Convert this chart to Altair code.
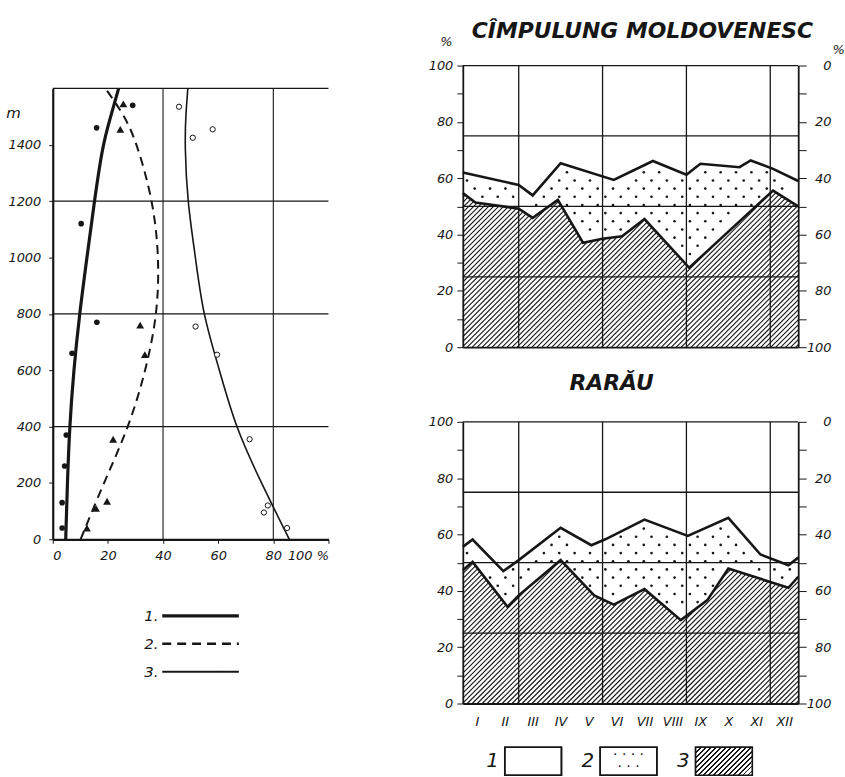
import altair as alt
import numpy as np
import pandas as pd

FONT = "DejaVu Sans"
INK = "#161616"

# ---------------- left panel: share (%) versus altitude (m) ----------------
pts1_x = [3.4, 3.4, 4.3, 4.9, 7.0, 16.0, 10.3, 15.9, 29.0]
pts1_alt = [40, 130, 260, 370, 660, 770, 1120, 1460, 1540]
pts2_x = [12.4, 15.7, 19.7, 21.9, 33.4, 31.7, 24.5, 25.6]
pts2_alt = [40, 110, 135, 355, 655, 760, 1455, 1545]
pts3_x = [85.0, 76.6, 78.0, 71.4, 59.6, 51.8, 50.8, 58.0, 45.8]
pts3_alt = [40, 95, 120, 355, 655, 755, 1425, 1455, 1535]

curve_alt = [0, 200, 400, 600, 800, 1000, 1200, 1400, 1500, 1600]
curve1_x = [4.7, 5.3, 6.1, 7.6, 9.7, 12.4, 15.1, 18.1, 21.0, 23.9]
curve2_x = [10.1, 18.5, 27.7, 33.8, 38.0, 38.6, 36.4, 30.7, 26.3, 19.1]
curve3_x = [85.8, 75.6, 66.2, 60.5, 54.4, 51.8, 48.8, 47.9, 48.2, 49.0]

left_x_ticks = [0, 20, 40, 60, 80, 100]
left_y_ticks = [0, 200, 400, 600, 800, 1000, 1200, 1400]
left_grid_x = [40, 80]
left_grid_y = [400, 800, 1200, 1600]
line_keys = ["1.", "2.", "3."]

# ---------------- right panels: monthly shares (%) ----------------
months = ["I", "II", "III", "IV", "V", "VI", "VII", "VIII", "IX", "X", "XI", "XII"]
# Cîmpulung Moldovenesc: upper boundary (2+3) and lower boundary (3)
cm_up_x = [0.5, 2.5, 3.0, 4.0, 5.9, 7.3, 8.5, 9.0, 10.4, 10.8, 11.6, 12.5]
cm_up_y = [62.0, 57.6, 53.9, 65.3, 59.4, 66.1, 61.2, 65.1, 63.9, 66.3, 63.3, 59.0]
cm_lo_x = [0.5, 0.95, 2.5, 3.0, 3.9, 4.8, 5.5, 6.2, 7.0, 8.6, 11.3, 11.6, 12.5]
cm_lo_y = [54.7, 51.4, 49.2, 45.9, 52.3, 37.1, 38.5, 39.4, 45.5, 28.2, 52.9, 55.6, 50.0]
# Rarau
ra_up_x = [0.5, 0.85, 1.95, 2.5, 4.0, 5.1, 5.6, 7.0, 8.55, 10.0, 11.15, 12.15, 12.5]
ra_up_y = [55.6, 58.2, 47.0, 50.9, 62.4, 56.2, 58.3, 65.3, 59.5, 65.9, 52.9, 49.1, 51.8]
ra_lo_x = [0.5, 0.85, 2.1, 2.5, 4.0, 5.2, 5.9, 7.0, 8.3, 9.25, 10.0, 12.15, 12.5]
ra_lo_y = [47.3, 50.3, 34.3, 38.4, 50.9, 38.4, 35.1, 40.6, 29.6, 36.7, 47.9, 41.1, 45.0]

right_grid_x = [2.5, 5.5, 8.5, 11.5]
right_grid_y = [25, 50, 75, 100]
right_y_ticks = list(range(0, 101, 10))
box_keys = ["1", "2", "3"]

PW, PH = 337, 283   # right panel plot size
LW, LH = 277, 453   # left panel plot size


# ---------------- helpers (styles / textures) ----------------
def hatch_gradient(W, H, spacing=5.0, frac=0.3):
    D = W + H
    n = int(D / spacing)
    stops = []
    for i in range(n):
        a, b, c = i / n, (i + frac) / n, (i + 1) / n
        stops += [
            alt.GradientStop(color=INK, offset=a),
            alt.GradientStop(color=INK, offset=b),
            alt.GradientStop(color="white", offset=b),
            alt.GradientStop(color="white", offset=c),
        ]
    s = D * W / (W ** 2 + H ** 2)
    return alt.Gradient(gradient="linear", stops=stops, x1=0, y1=0, x2=s, y2=s * H / W)


def hatch_segments(lo_x, lo_y, spacing=5.0, step=0.5):
    """Diagonal hatch texture clipped below the lower boundary line (data units)."""
    rows = []
    c = spacing / 2
    while c < PW + PH:
        xp = np.arange(max(0.0, c - PH), min(PW, c) + 1e-9, step)
        if len(xp) > 1:
            yp = c - xp
            xv = 0.5 + xp / PW * 12
            yv = (PH - yp) / PH * 100
            inside = yv <= np.interp(xv, lo_x, lo_y)
            i = 0
            n = len(xp)
            while i < n:
                if inside[i]:
                    j = i
                    while j + 1 < n and inside[j + 1]:
                        j += 1
                    if j > i:
                        rows.append({"x": xv[i], "y": yv[i], "x2": xv[j], "y2": yv[j]})
                    i = j + 1
                else:
                    i += 1
        c += spacing
    return pd.DataFrame(rows)


def dot_texture(up_x, up_y, lo_x, lo_y, dx=0.55, dy=2.9, margin=1.8):
    xs, ys = [], []
    r, y = 0, 1.2
    while y < 100:
        x = 0.65 + 0.5 * dx * (r % 2)
        while x < 12.35:
            top = np.interp(x, up_x, up_y) - margin
            bot = np.interp(x, lo_x, lo_y) + margin
            if bot < y < top:
                xs.append(x)
                ys.append(y)
            x += dx
        y += dy
        r += 1
    return pd.DataFrame({"x": xs, "y": ys})


lab = dict(labelFont=FONT, labelFontSize=13, labelFontStyle="italic", labelColor=INK)

# ---------------- left plot ----------------
xl = alt.Scale(domain=[0, 100], nice=False, zero=False)
yl = alt.Scale(domain=[0, 1600], nice=False, zero=False)

lx_axis = alt.Axis(values=left_x_ticks, labelExpr="datum.value == 100 ? '100 %' : datum.label",
                   tickSize=4, tickColor=INK, domainColor=INK, domainWidth=2.2, labelPadding=6,
                   grid=False, title=None, **lab)
ly_axis = alt.Axis(values=left_y_ticks, format="d", tickSize=4, tickColor=INK, domainColor=INK,
                   domainWidth=2.2, labelPadding=8, grid=False, title="m", titleAngle=0, titleFont=FONT,
                   titleFontSize=15, titleFontStyle="italic", titleFontWeight="normal", titleColor=INK,
                   titleX=-40, titleY=24, titleAlign="center", titleBaseline="middle", **lab)

XL = alt.X("x:Q", scale=xl, axis=lx_axis)
YL = alt.Y("alt:Q", scale=yl, axis=ly_axis)

c1 = pd.DataFrame({"x": curve1_x, "alt": curve_alt})
c2 = pd.DataFrame({"x": curve2_x, "alt": curve_alt})
c3 = pd.DataFrame({"x": curve3_x, "alt": curve_alt})
p1 = pd.DataFrame({"x": pts1_x, "alt": pts1_alt})
p2 = pd.DataFrame({"x": pts2_x, "alt": pts2_alt})
p3 = pd.DataFrame({"x": pts3_x, "alt": pts3_alt})

lgx = alt.Chart(pd.DataFrame({"x": left_grid_x})).mark_rule(color=INK, strokeWidth=1.1).encode(x=XL)
lgy = alt.Chart(pd.DataFrame({"alt": left_grid_y})).mark_rule(color=INK, strokeWidth=1.3).encode(y=YL)
cl1 = alt.Chart(c1).mark_line(color=INK, strokeWidth=3.2, interpolate="basis").encode(
    x=XL, y=YL, order="alt:Q")
cl2 = alt.Chart(c2).mark_line(color=INK, strokeWidth=2.0, strokeDash=[9, 6], interpolate="basis").encode(
    x=XL, y=YL, order="alt:Q")
cl3 = alt.Chart(c3).mark_line(color=INK, strokeWidth=1.6, interpolate="basis").encode(
    x=XL, y=YL, order="alt:Q")
pp1 = alt.Chart(p1).mark_point(shape="circle", filled=True, size=32, color=INK, opacity=1).encode(x=XL, y=YL)
pp2 = alt.Chart(p2).mark_point(shape="triangle-up", filled=True, size=62, color=INK, opacity=1).encode(x=XL, y=YL)
pp3 = alt.Chart(p3).mark_point(shape="circle", filled=True, size=28, fill="white", stroke=INK,
                               strokeWidth=1, opacity=1).encode(x=XL, y=YL)

left_plot = alt.layer(lgx, lgy, cl3, cl2, cl1, pp3, pp2, pp1).properties(width=LW, height=LH)

legdf = pd.DataFrame({"k": line_keys})
ly = alt.Y("k:N", axis=None, scale=alt.Scale(type="point", padding=0.5, domain=line_keys))
leg_rules = alt.Chart(legdf).mark_rule(color=INK).encode(
    y=ly, x=alt.value(110), x2=alt.value(187),
    strokeWidth=alt.StrokeWidth("k:N", scale=alt.Scale(domain=line_keys, range=[3.2, 2.0, 1.6]), legend=None),
    strokeDash=alt.StrokeDash("k:N", scale=alt.Scale(domain=line_keys, range=[[1, 0], [9, 6], [1, 0]]), legend=None))
leg_text = alt.Chart(legdf).mark_text(align="left", baseline="middle", font=FONT, fontSize=15,
                                      fontStyle="italic", color=INK).encode(y=ly, x=alt.value(92), text="k:N")
left_legend = alt.layer(leg_rules, leg_text).properties(width=LW, height=84)

# invisible spacer that lowers the left plot relative to the right panels
spacer = alt.Chart(pd.DataFrame({"v": [0]})).mark_point(size=1, opacity=0).encode(
    x=alt.value(0), y=alt.value(0)).properties(width=20, height=10)

# ---------------- right panels ----------------
month_expr = "[" + ",".join("'%s'" % m for m in months) + "][datum.value - 1]"


def right_panel(up_x, up_y, lo_x, lo_y, title, tsize, tdx, toffset, show_months, show_pct):
    xs = alt.Scale(domain=[0.5, 12.5], nice=False, zero=False)
    ys = alt.Scale(domain=[0, 100], nice=False, zero=False)
    up = pd.DataFrame({"x": up_x, "y": up_y})
    lo = pd.DataFrame({"x": lo_x, "y": lo_y})
    xaxis = alt.Axis(values=list(range(1, 13)), labelExpr=month_expr, labels=show_months, tickSize=0,
                     grid=False, domainColor=INK, domainWidth=1.8, labelPadding=12, title=None, **lab)
    pct = dict(titleAngle=0, titleFont=FONT, titleFontSize=13, titleFontWeight="normal",
               titleFontStyle="italic", titleColor=INK, titleAlign="center", titleBaseline="middle")
    laxis_kw = dict(values=right_y_ticks, labelExpr="datum.value % 20 == 0 ? datum.label : ''",
                    tickSize=6, tickColor=INK, domainColor=INK, domainWidth=1.8, labelPadding=4,
                    grid=False, orient="left", **lab)
    raxis_kw = dict(values=right_y_ticks,
                    labelExpr="datum.value % 20 == 0 ? '' + (100 - datum.value) : ''",
                    tickSize=8, tickColor=INK, domainColor=INK, domainWidth=1.8, labelPadding=25,
                    labelAlign="right", grid=False, orient="right", **lab)
    if show_pct:
        laxis = alt.Axis(title="%", titleX=-17, titleY=-24, **pct, **laxis_kw)
        raxis = alt.Axis(title="%", titleX=40, titleY=-16, **pct, **raxis_kw)
    else:
        laxis = alt.Axis(title=None, **laxis_kw)
        raxis = alt.Axis(title=None, **raxis_kw)
    X = alt.X("x:Q", scale=xs, axis=xaxis)
    by = alt.Y("y:Q", scale=ys, axis=None)

    hatch = alt.Chart(hatch_segments(lo_x, lo_y)).mark_rule(color=INK, strokeWidth=1.1).encode(
        x=X, y=alt.Y("y:Q", scale=ys, axis=laxis), x2="x2:Q", y2="y2:Q")
    dots = alt.Chart(dot_texture(up_x, up_y, lo_x, lo_y)).mark_circle(size=7, color=INK, opacity=1).encode(
        x=X, y=by)
    hgrid = alt.Chart(pd.DataFrame({"y": right_grid_y})).mark_rule(color=INK, strokeWidth=1.3).encode(y=by)
    vgrid = alt.Chart(pd.DataFrame({"x": right_grid_x})).mark_rule(color=INK, strokeWidth=1.3).encode(x=X)
    upl = alt.Chart(up).mark_line(color=INK, strokeWidth=2.6).encode(
        x=X, y=alt.Y("y:Q", scale=ys, axis=raxis))
    lol = alt.Chart(lo).mark_line(color=INK, strokeWidth=2.6).encode(x=X, y=by)
    return alt.layer(hatch, dots, hgrid, vgrid, upl, lol).resolve_axis(y="independent").properties(
        width=PW, height=PH,
        title=alt.TitleParams(text=title, font=FONT, fontSize=tsize, fontStyle="italic",
                              fontWeight="bold", color=INK, anchor="middle", dx=tdx, offset=toffset,
                              frame="group"))


top_panel = right_panel(cm_up_x, cm_up_y, cm_lo_x, cm_lo_y, "CÎMPULUNG  MOLDOVENESC", 22, 12, -7,
                        False, True)
bottom_panel = right_panel(ra_up_x, ra_up_y, ra_lo_x, ra_lo_y, "RARĂU", 22, -19, 21, True, False)

# legend boxes 1, 2, 3
boxdf = pd.DataFrame({"k": box_keys})
bxs = alt.X("k:N", axis=None, scale=alt.Scale(domain=box_keys, paddingInner=0.406, paddingOuter=0.44))
BOXW = 57
box_white = alt.Chart(boxdf).mark_rect(fill="white", stroke=INK, strokeWidth=1.6).encode(
    x=bxs, y=alt.value(0), y2=alt.value(28))
box_hatch = alt.Chart(boxdf).transform_filter("datum.k == '3'").mark_rect(
    fill=hatch_gradient(BOXW, 28, spacing=5.0), strokeWidth=0).encode(x=bxs, y=alt.value(0), y2=alt.value(28))
box_frame = alt.Chart(boxdf).mark_rect(fill="white", fillOpacity=0, stroke=INK, strokeWidth=1.6).encode(
    x=bxs, y=alt.value(0), y2=alt.value(28))
dots_a = alt.Chart(boxdf).transform_filter("datum.k == '2'").mark_text(
    text="·    ·    ·    ·", font=FONT, fontSize=14, color=INK, baseline="middle").encode(
    x=bxs, y=alt.value(8))
dots_b = alt.Chart(boxdf).transform_filter("datum.k == '2'").mark_text(
    text="  ·    ·    ·  ", font=FONT, fontSize=14, color=INK, baseline="middle").encode(
    x=bxs, y=alt.value(20))
box_lab = alt.Chart(boxdf).mark_text(align="right", baseline="middle", dx=-(BOXW / 2 + 6), font=FONT,
                                     fontSize=20, fontStyle="italic", color=INK).encode(
    x=bxs, y=alt.value(14), text="k:N")
right_legend = alt.layer(box_white, box_hatch, dots_a, dots_b, box_frame, box_lab).properties(
    width=333, height=28)

leftcol = alt.vconcat(spacer, alt.vconcat(left_plot, left_legend, spacing=40), spacing=6)
rightcol = alt.vconcat(top_panel, bottom_panel, right_legend, spacing=18)

chart = alt.hconcat(leftcol, rightcol, spacing=99).properties(
    padding={"left": 5, "top": 18, "right": 0, "bottom": 0},
    background="white",
).configure_view(strokeWidth=0)

chart.save("out.html", embed_options={"renderer": "svg", "actions": False})
